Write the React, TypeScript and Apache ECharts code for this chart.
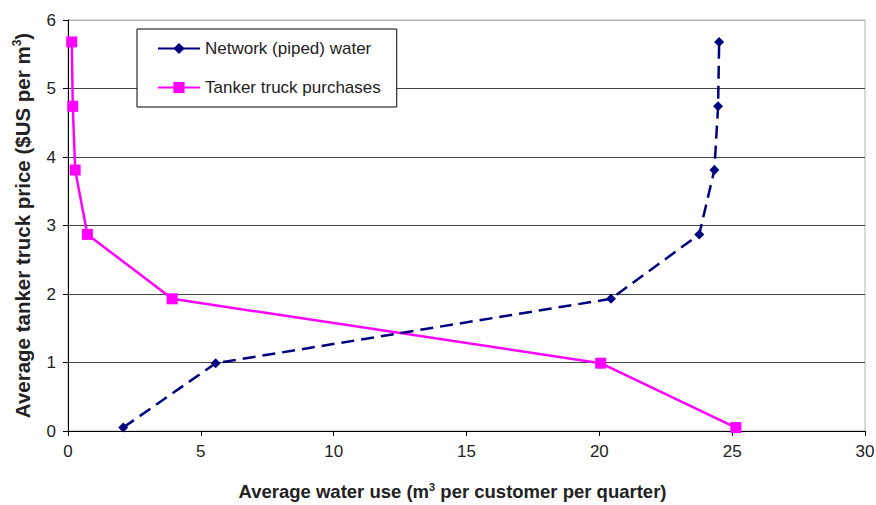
import React, { useEffect, useRef } from "react";
import * as echarts from "echarts";

const networkUse = [2.08, 5.56, 20.44, 23.76, 24.33, 24.47, 24.51];
const networkPrice = [0.05, 0.99, 1.93, 2.87, 3.81, 4.74, 5.68];
const tankerUse = [25.14, 20.05, 3.92, 0.73, 0.27, 0.18, 0.14];
const tankerPrice = [0.05, 0.99, 1.93, 2.87, 3.81, 4.74, 5.68];
const seriesNames = ["Network (piped) water", "Tanker truck purchases"];

const FONT = "Liberation Sans, Arial, sans-serif";

export default function App() {
  const ref = useRef<HTMLDivElement>(null);
  useEffect(() => {
    if (!ref.current) return;
    const chart = echarts.init(ref.current, null, { renderer: "svg" });
    const xRich = {
      a: { fontSize: 18.5, fontWeight: "bold", fontFamily: FONT, color: "#222" },
      sup: { fontSize: 11, fontWeight: "bold", fontFamily: FONT, color: "#222", verticalAlign: "top", padding: [0, 0, 9, 0] },
    };
    const yRich = {
      a: { fontSize: 20.5, fontWeight: "bold", fontFamily: FONT, color: "#222" },
      sup: { fontSize: 12, fontWeight: "bold", fontFamily: FONT, color: "#222", verticalAlign: "top", padding: [0, 0, 10, 0] },
    };
    chart.setOption({
      animation: false,
      backgroundColor: "#fff",
      grid: {
        left: 68,
        right: 11,
        top: 20,
        bottom: 74,
        show: true,
        borderColor: "#b0b0b0",
        borderWidth: 1,
        containLabel: false,
        outerBoundsMode: "none",
      },
      legend: {
        orient: "vertical",
        left: 137,
        top: 29,
        padding: [11, 16, 11, 20],
        itemWidth: 42,
        itemHeight: 14,
        itemGap: 22,
        backgroundColor: "#fff",
        borderColor: "#000",
        borderWidth: 1,
        borderRadius: 0,
        textStyle: { fontSize: 17, fontFamily: FONT, color: "#222" },
        data: [
          { name: seriesNames[0], lineStyle: { type: "solid" } },
          { name: seriesNames[1], lineStyle: { type: "solid" } },
        ],
      },
      xAxis: {
        type: "value",
        min: 0,
        max: 30,
        interval: 5,
        name: "{a|Average water use (m}{sup|3}{a| per customer per quarter)}",
        nameLocation: "middle",
        nameGap: 50,
        nameTextStyle: { rich: xRich, padding: [0, 28, 0, 0] },
        axisLine: { show: true, lineStyle: { color: "#000", width: 1 } },
        axisTick: { show: true, length: 5, lineStyle: { color: "#000" } },
        axisLabel: { fontSize: 17, fontFamily: FONT, color: "#222", margin: 12 },
        splitLine: { show: false },
      },
      yAxis: {
        type: "value",
        min: 0,
        max: 6,
        interval: 1,
        name: "{a|Average tanker truck price ($US per m}{sup|3}{a|)}",
        nameLocation: "middle",
        nameGap: 35,
        nameRotate: 90,
        nameTextStyle: { rich: yRich },
        axisLine: { show: true, lineStyle: { color: "#000", width: 1 } },
        axisTick: { show: true, length: 5, lineStyle: { color: "#000" } },
        axisLabel: { fontSize: 17, fontFamily: FONT, color: "#222", margin: 12 },
        splitLine: {
          show: true,
          lineStyle: {
            color: ["#444", "#444", "#444", "#444", "#444", "#444", "#b0b0b0"],
            width: 1,
          },
        },
      },
      series: [
        {
          name: seriesNames[0],
          type: "line",
          data: networkUse.map((x, i) => [x, networkPrice[i]]),
          symbol: "diamond",
          symbolSize: 10,
          showAllSymbol: true,
          itemStyle: { color: "#000080" },
          lineStyle: { color: "#000080", width: 2.5, type: [13, 7] },
          z: 3,
        },
        {
          name: seriesNames[1],
          type: "line",
          data: tankerUse.map((x, i) => [x, tankerPrice[i]]),
          symbol: "rect",
          symbolSize: 11,
          showAllSymbol: true,
          itemStyle: { color: "#ff00ff" },
          lineStyle: { color: "#ff00ff", width: 2.5 },
          z: 2,
        },
      ],
    });
    return () => chart.dispose();
  }, []);
  return <div ref={ref} style={{ width: 876, height: 505, position: "absolute", left: 0, top: 0 }} />;
}
